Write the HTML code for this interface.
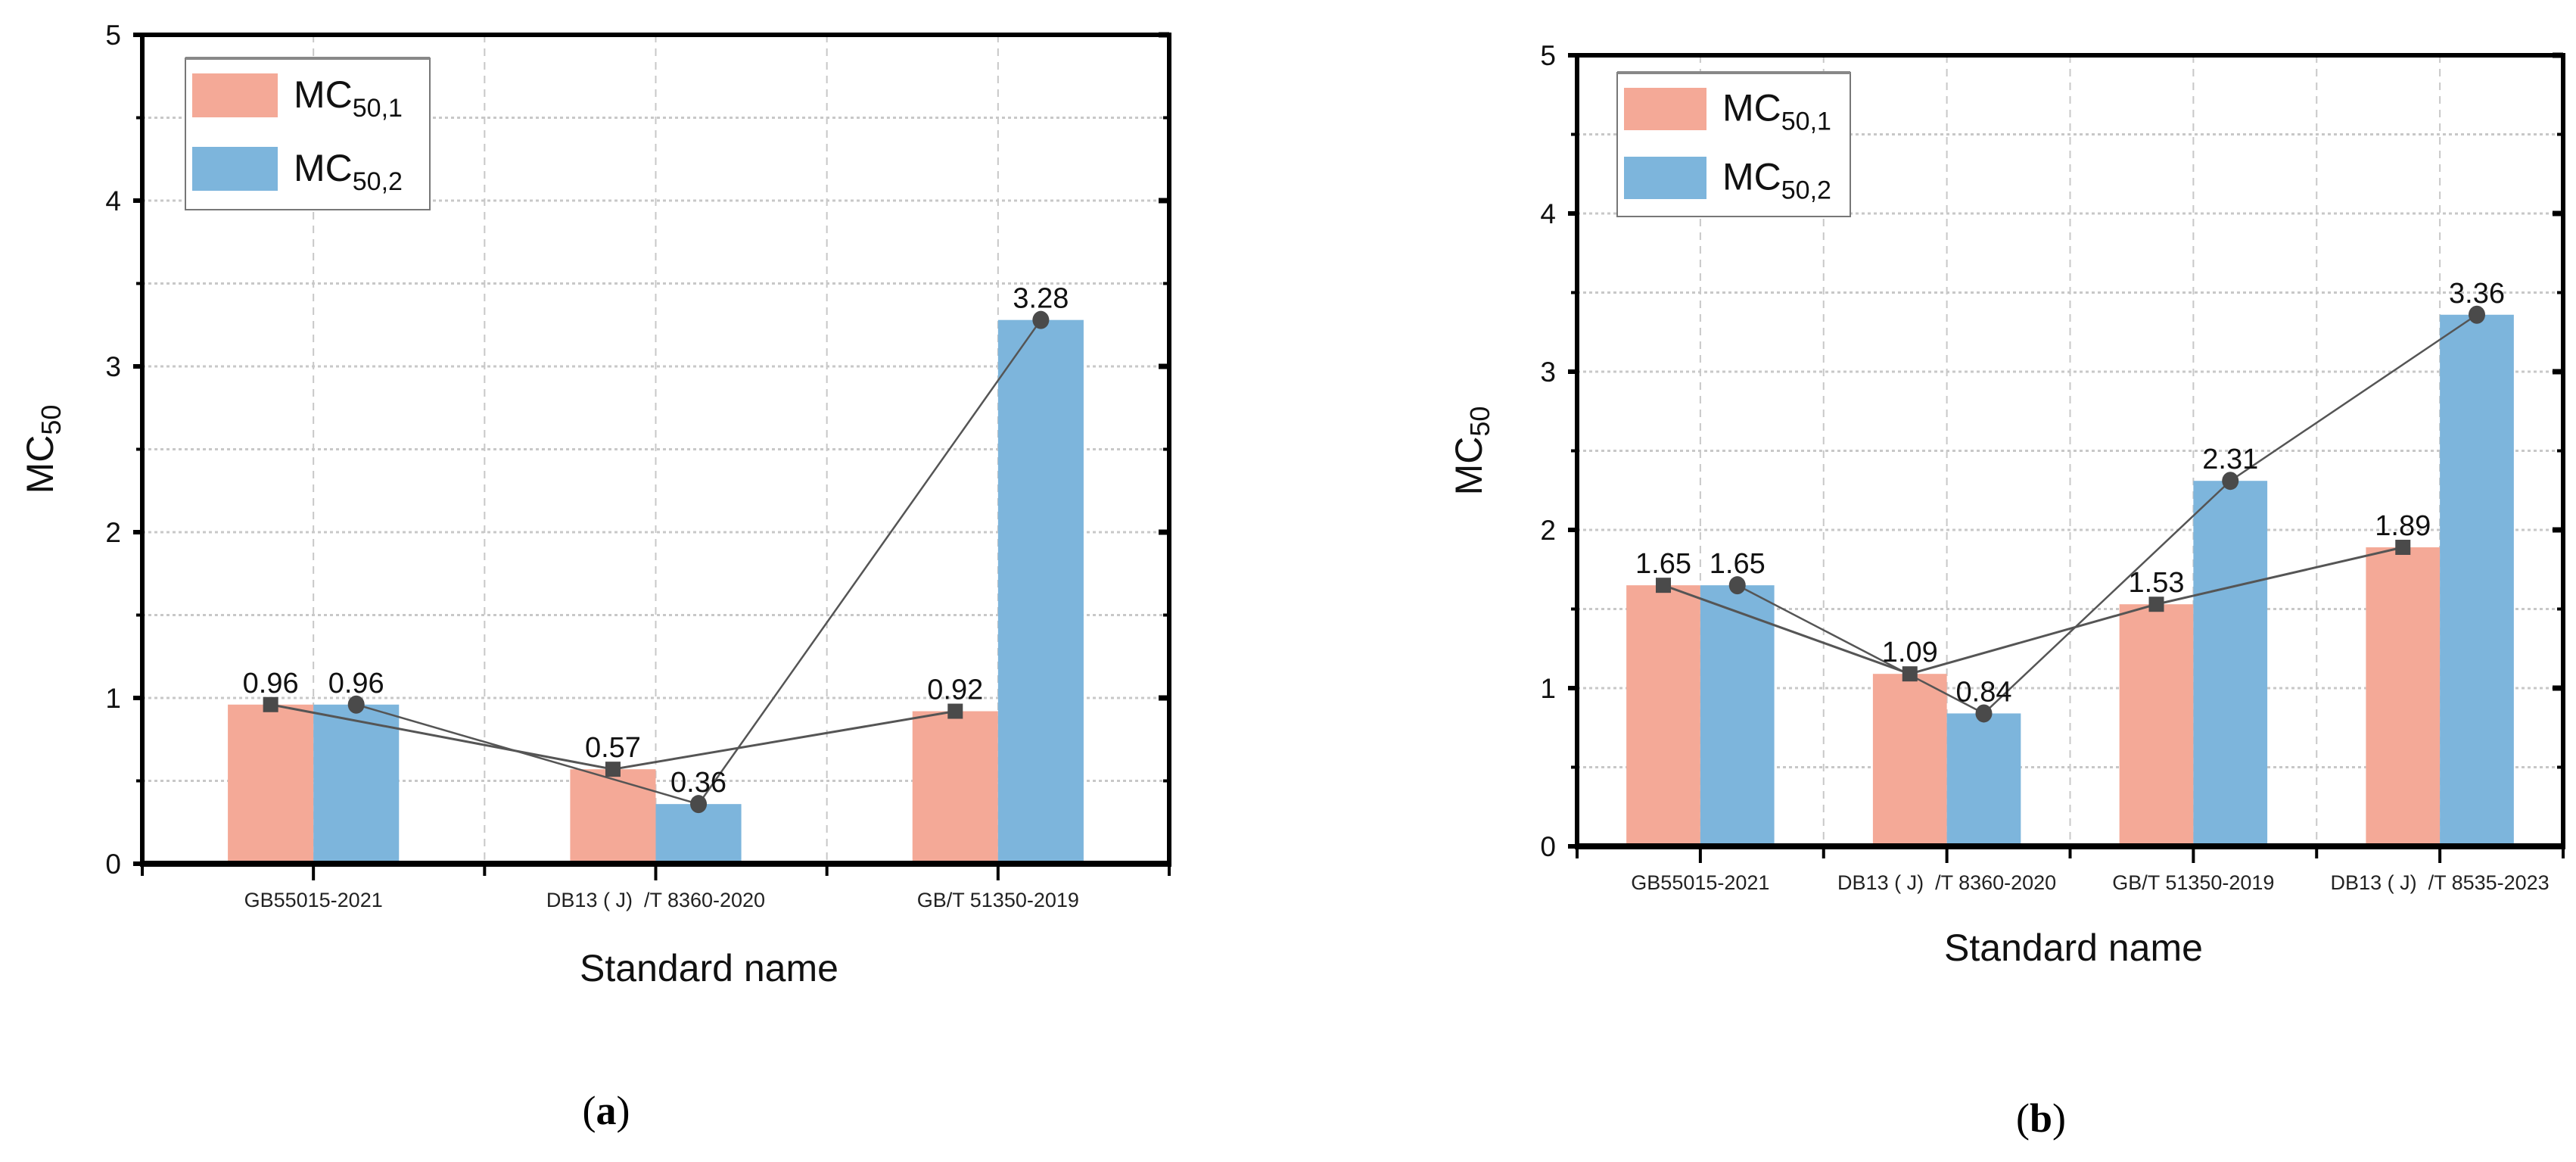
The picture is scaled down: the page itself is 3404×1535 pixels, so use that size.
<!DOCTYPE html>
<html><head><meta charset="utf-8"><style>
html,body{margin:0;padding:0;background:#fff;}
svg{display:block;font-family:"Liberation Sans",Arial,sans-serif;}
text{white-space:pre;}
</style></head><body>
<svg id="fig" width="3404" height="1535" viewBox="0 0 3404 1535" xmlns="http://www.w3.org/2000/svg"></svg>
<script>
// Chart (a)
const catsA = ["GB55015-2021", "DB13 ( J)  /T 8360-2020", "GB/T 51350-2019"];
const mc1A = [0.96, 0.57, 0.92];
const mc2A = [0.96, 0.36, 3.28];
// Chart (b)
const catsB = ["GB55015-2021", "DB13 ( J)  /T 8360-2020", "GB/T 51350-2019", "DB13 ( J)  /T 8535-2023"];
const mc1B = [1.65, 1.09, 1.53, 1.89];
const mc2B = [1.65, 0.84, 2.31, 3.36];
const yTicks = [0, 1, 2, 3, 4, 5];
const seriesNames = ["50,1", "50,2"];

const NS = "http://www.w3.org/2000/svg";
const svg = document.getElementById('fig');
function mk(tag, attrs, parent) {
  const e = document.createElementNS(NS, tag);
  for (const k in attrs) e.setAttribute(k, attrs[k]);
  (parent || svg).appendChild(e);
  return e;
}

function drawChart(cfg, cats, s1, s2, id) {
  const g = mk('g', {});
  
  
  const {x0, x1, y0, y5, barFrac, legend, catY, titleX, titleY, panelX, panelY, ytitleX} = cfg;
  const yMax = 5;
  const ys = v => y0 - (v / yMax) * (y0 - y5);
  const cw = (x1 - x0) / cats.length;
  const cx = i => x0 + cw * (i + 0.5);
  const bw = cw * barFrac;

  const grid = mk('g', {}, g);
  
  
  for (let k = 1; k < cats.length * 2; k++) {
    const x = x0 + cw * k / 2;
    mk('line', {x1: x, x2: x, y1: y5, y2: y0, stroke: '#c8c8c8', 'stroke-width': 2, 'stroke-dasharray': '10,8'}, grid);
  }
  for (let v = 0.5; v < yMax; v += 0.5) {
    mk('line', {x1: x0, x2: x1, y1: ys(v), y2: ys(v), stroke: '#c8c8c8', 'stroke-width': 3, 'stroke-dasharray': '4,4'}, grid);
  }

  cats.forEach((c, i) => {
    const r1 = mk('rect', {x: cx(i) - bw, y: ys(s1[i]), width: bw, height: y0 - ys(s1[i]), fill: '#f4a997'}, g);
    
    
    const r2 = mk('rect', {x: cx(i), y: ys(s2[i]), width: bw, height: y0 - ys(s2[i]), fill: '#7db5dc'}, g);
    
    
  });

  const p1 = s1.map((v, i) => (cx(i) - bw / 2) + ',' + ys(v)).join(' ');
  const p2 = s2.map((v, i) => (cx(i) + bw / 2) + ',' + ys(v)).join(' ');
  const l1 = mk('polyline', {points: p1, fill: 'none', stroke: '#555', 'stroke-width': 3}, g);
  
  
  const l2 = mk('polyline', {points: p2, fill: 'none', stroke: '#555', 'stroke-width': 2.5}, g);
  
  
  s1.forEach((v, i) => {
    const x = cx(i) - bw / 2, y = ys(v);
    const m = mk('rect', {x: x - 10, y: y - 10, width: 20, height: 20, fill: '#4a4a4a'}, g);
    
    
    const t = mk('text', {x: x, y: y - 16, 'font-size': 38, 'text-anchor': 'middle', fill: '#111'}, g);
    t.textContent = v.toFixed(2);
    
    
  });
  s2.forEach((v, i) => {
    const x = cx(i) + bw / 2, y = ys(v);
    const m = mk('ellipse', {cx: x, cy: y, rx: 11, ry: 12, fill: '#4a4a4a'}, g);
    
    
    const t = mk('text', {x: x, y: y - 16, 'font-size': 38, 'text-anchor': 'middle', fill: '#111'}, g);
    t.textContent = v.toFixed(2);
    
    
  });

  const ax = mk('g', {stroke: '#000'}, g);
  
  
  mk('line', {x1: x0 - 3, x2: x1 + 3, y1: y5, y2: y5, 'stroke-width': 6}, ax);
  mk('line', {x1: x0 - 3, x2: x1 + 3, y1: y0, y2: y0, 'stroke-width': 8}, ax);
  mk('line', {x1: x0, x2: x0, y1: y5, y2: y0 + 4, 'stroke-width': 6}, ax);
  mk('line', {x1: x1, x2: x1, y1: y5, y2: y0 + 4, 'stroke-width': 6}, ax);
  for (let v = 0; v <= yMax; v += 0.5) {
    const major = Number.isInteger(v);
    mk('line', {x1: x0 - (major ? 12 : 8), x2: x0, y1: ys(v), y2: ys(v), 'stroke-width': major ? 6 : 4}, ax);
    mk('line', {x1: x1 - (major ? 14 : 8), x2: x1, y1: ys(v), y2: ys(v), 'stroke-width': major ? 7 : 4}, ax);
  }
  for (let k = 0; k <= cats.length * 2; k++) {
    const x = x0 + cw * k / 2;
    mk('line', {x1: x, x2: x, y1: y0, y2: y0 + (k % 2 ? 22 : 16), 'stroke-width': 4}, ax);
  }
  yTicks.forEach(v => {
    const t = mk('text', {x: x0 - 28, y: ys(v) + 13, 'font-size': 37, 'text-anchor': 'end', fill: '#111'}, g);
    t.textContent = v;
    
    
  });
  cats.forEach((c, i) => {
    const t = mk('text', {x: cx(i), y: catY, 'font-size': 27, 'text-anchor': 'middle', fill: '#222'}, g);
    t.textContent = c;
    
    
  });

  const yt = mk('text', {x: 0, y: 0, 'font-size': 50, 'text-anchor': 'middle', fill: '#111', transform: `translate(${ytitleX},${(y0 + y5) / 2}) rotate(-90)`}, g);
  yt.innerHTML = 'MC<tspan font-size="36" dy="10">50</tspan>';
  
  
  const xt = mk('text', {x: titleX, y: titleY, 'font-size': 50, 'text-anchor': 'middle', fill: '#111'}, g);
  xt.textContent = 'Standard name';
  
  
  const pl = mk('text', {x: panelX, y: panelY, 'font-size': 54, 'text-anchor': 'middle', fill: '#000', 'font-family': '"Liberation Serif",serif'}, g);
  pl.innerHTML = '(<tspan font-weight="bold">' + id + '</tspan>)';
  
  

  const lg = mk('g', {}, g);
  
  
  mk('rect', {x: legend.x, y: legend.y, width: legend.w, height: legend.h, fill: '#fff', stroke: '#777', 'stroke-width': 2}, lg);
  mk('line', {x1: legend.x, x2: legend.x + legend.w, y1: legend.y, y2: legend.y, stroke: '#888', 'stroke-width': 4}, lg);
  const cols = ['#f4a997', '#7db5dc'];
  seriesNames.forEach((s, k) => {
    const yy = legend.y + 20 + k * legend.step;
    const e = mk('g', {}, lg);
    
    
    mk('rect', {x: legend.x + 9, y: yy, width: legend.sw, height: legend.sh, fill: cols[k]}, e);
    const t = mk('text', {x: legend.x + legend.sw + 30, y: yy + legend.sh * 0.78, 'font-size': 50, fill: '#111'}, e);
    t.innerHTML = 'MC<tspan font-size="34" dy="12">' + s + '</tspan>';
  });
}

drawChart({x0: 188, x1: 1545, y0: 1141, y5: 46, barFrac: 0.25,
  legend: {x: 245, y: 77, w: 323, h: 200, step: 97, sw: 113, sh: 58},
  catY: 1198, titleX: 937, titleY: 1296, panelX: 801, panelY: 1485, ytitleX: 70}, catsA, mc1A, mc2A, 'a');
drawChart({x0: 2084, x1: 3387, y0: 1118, y5: 73, barFrac: 0.3,
  legend: {x: 2137, y: 96, w: 308, h: 190, step: 91, sw: 109, sh: 56},
  catY: 1175, titleX: 2740, titleY: 1269, panelX: 2697, panelY: 1495, ytitleX: 1958}, catsB, mc1B, mc2B, 'b');
</script>
</body></html>
